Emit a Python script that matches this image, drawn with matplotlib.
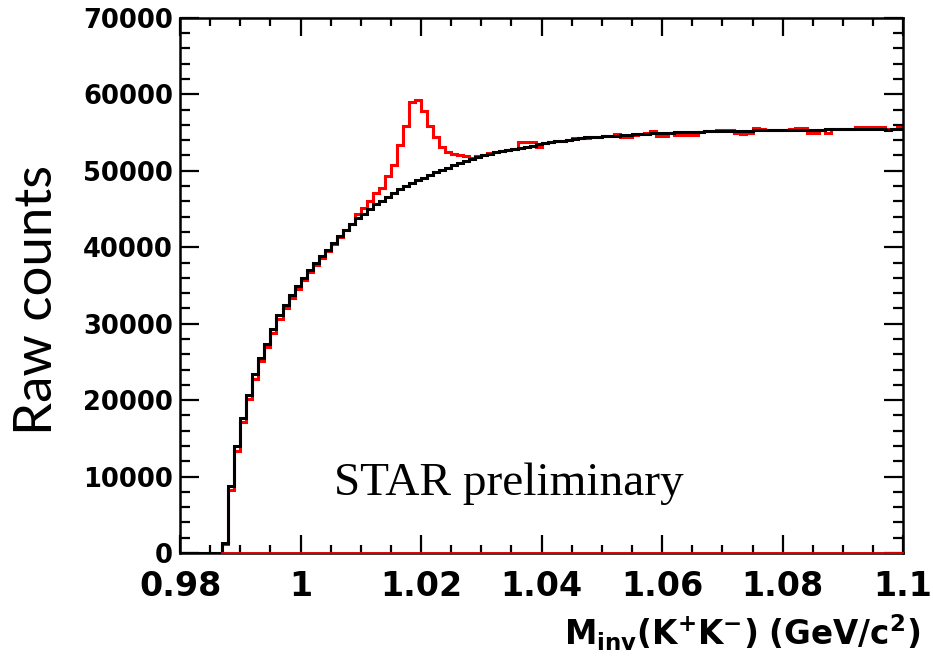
import numpy as np
import matplotlib
matplotlib.use("Agg")
import matplotlib.pyplot as plt
from matplotlib.ticker import MultipleLocator

# K+K- invariant mass, 1 MeV bins from 0.980 to 1.100 GeV/c^2
mass_lo, mass_hi, n_bins = 0.980, 1.100, 120

# mixed-event background (black)
mixed_counts = [
    0, 0, 0, 0, 0, 0, 0, 1300, 8800, 14000,
    17700, 20700, 23400, 25500, 27400, 29300, 31100, 32400, 33700, 34900,
    36000, 37000, 37900, 38800, 39700, 40600, 41500, 42300, 43100, 43800,
    44400, 45000, 45600, 46100, 46600, 47100, 47550, 47950, 48350, 48750,
    49100, 49450, 49800, 50100, 50400, 50700, 51000, 51300, 51600, 51850,
    52050, 52250, 52400, 52550, 52700, 52850, 53000, 53150, 53300, 53450,
    53600, 53700, 53850, 53950, 54050, 54150, 54250, 54350, 54400, 54450,
    54500, 54550, 54600, 54650, 54700, 54750, 54800, 54850, 54900, 54950,
    54980, 55000, 55030, 55060, 55080, 55100, 55120, 55140, 55160, 55180,
    55200, 55220, 55150, 55240, 55260, 55280, 55300, 55310, 55320, 55330,
    55340, 55350, 55360, 55370, 55300, 55380, 55390, 55400, 55400, 55410,
    55410, 55420, 55420, 55430, 55430, 55440, 55440, 55300, 55450, 55450,
]

# same-event pairs (red)
same_counts = [
    0, 0, 0, 0, 0, 0, 0, 1200, 8300, 13400,
    17200, 20100, 22800, 25100, 27000, 28800, 30600, 32100, 33400, 34600,
    35700, 36700, 37700, 38600, 39500, 40400, 41300, 42200, 43100, 44300,
    45100, 46000, 47150, 47700, 49300, 50750, 53400, 55800, 59000, 59200,
    57800, 55850, 54400, 53150, 52500, 52200, 52000, 51950, 51700, 51900,
    52100, 52300, 52500, 52600, 52700, 52900, 53700, 53800, 53750, 53100,
    53600, 53800, 53850, 53900, 54000, 54250, 54300, 54300, 54400, 54450,
    54500, 54600, 54850, 54350, 54400, 54700, 54800, 54900, 55200, 54550,
    54500, 55000, 54650, 54650, 54700, 54650, 55100, 55150, 55200, 55350,
    55300, 55320, 54900, 54850, 54900, 55550, 55500, 55300, 55350, 55300,
    55350, 55400, 55650, 55650, 54950, 54950, 55350, 54950, 55400, 55450,
    55400, 55500, 55750, 55750, 55700, 55750, 55700, 55450, 55400, 55700,
]

x_ticks = [0.98, 1.0, 1.02, 1.04, 1.06, 1.08, 1.1]
x_tick_labels = ["0.98", "1", "1.02", "1.04", "1.06", "1.08", "1.1"]
y_ticks = [0, 10000, 20000, 30000, 40000, 50000, 60000, 70000]

edges = np.linspace(mass_lo, mass_hi, n_bins + 1)
first_filled = next(i for i, v in enumerate(same_counts) if v > 0)

fig = plt.figure(figsize=(9.33, 6.6), dpi=100)
ax = fig.add_axes([0.193, 0.162, 0.775, 0.811])

ax.stairs(same_counts, edges, color="#ff0000", linewidth=2.2, baseline=None, zorder=2)
ax.stairs(mixed_counts, edges, color="black", linewidth=2.2, baseline=None, zorder=2.2)
ax.plot([edges[first_filled], edges[-1]], [0, 0], color="#ff0000", linewidth=1.2,
        zorder=3, clip_on=False)

ax.set_xlim(mass_lo, mass_hi)
ax.set_ylim(0, 70000)

ax.set_xticks(x_ticks)
ax.set_xticklabels(x_tick_labels)
ax.set_yticks(y_ticks)
ax.set_yticklabels([str(v) for v in y_ticks])
ax.xaxis.set_minor_locator(MultipleLocator(0.005))
ax.yaxis.set_minor_locator(MultipleLocator(2000))

ax.tick_params(which="both", direction="in", top=True, right=True, width=1.6)
ax.tick_params(which="major", axis="y", length=14)
ax.tick_params(which="minor", axis="y", length=7)
ax.tick_params(which="major", axis="x", length=13)
ax.tick_params(which="minor", axis="x", length=6)
ax.tick_params(axis="y", pad=5)
ax.tick_params(axis="x", pad=12)

for lab in ax.get_yticklabels():
    lab.set_fontfamily("DejaVu Sans")
    lab.set_fontweight("bold")
    lab.set_fontsize(18.5)
for lab in ax.get_xticklabels():
    lab.set_fontfamily("DejaVu Sans")
    lab.set_fontweight("bold")
    lab.set_fontsize(24)

for sp in ax.spines.values():
    sp.set_linewidth(1.8)

fig.text(0.986, 0.042, r"$\mathbf{M_{inv}(K^{+}K^{-})\ (GeV/c^{2})}$",
         ha="right", va="center", fontsize=23.5)
fig.text(0.040, 0.545, "Raw counts", rotation=90, ha="center", va="center",
         fontsize=38, family="Lato")
ax.text(0.213, 0.108, "STAR preliminary", transform=ax.transAxes,
        fontsize=34, family="Liberation Serif", ha="left", va="baseline")

fig.savefig("out.png", dpi=100)
